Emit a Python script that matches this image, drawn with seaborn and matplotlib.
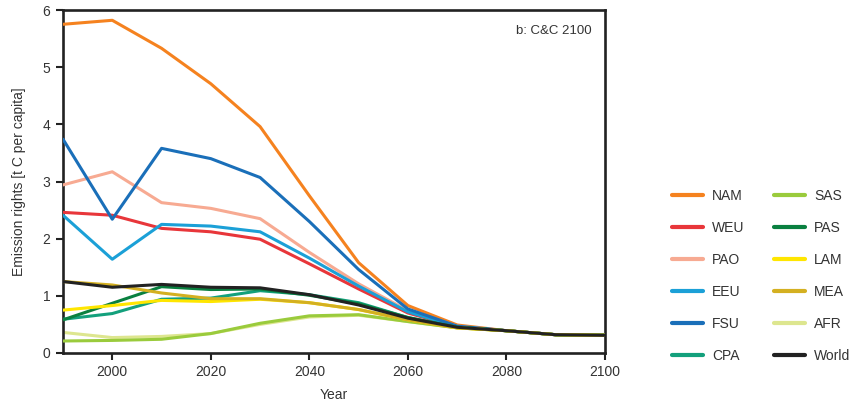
import numpy as np
import pandas as pd
import matplotlib
matplotlib.use("Agg")
import matplotlib.pyplot as plt
import seaborn as sns

years = [1990, 2000, 2010, 2020, 2030, 2040, 2050, 2060, 2070, 2080, 2090, 2100]

NAM = [5.75, 5.82, 5.33, 4.71, 3.96, 2.75, 1.58, 0.83, 0.49, 0.39, 0.32, 0.31]
WEU = [2.46, 2.41, 2.18, 2.12, 1.99, 1.56, 1.12, 0.70, 0.46, 0.39, 0.32, 0.31]
PAO = [2.94, 3.17, 2.63, 2.53, 2.35, 1.76, 1.21, 0.74, 0.47, 0.39, 0.32, 0.31]
EEU = [2.41, 1.64, 2.25, 2.22, 2.12, 1.66, 1.17, 0.72, 0.46, 0.39, 0.32, 0.31]
FSU = [3.74, 2.34, 3.58, 3.40, 3.07, 2.30, 1.46, 0.77, 0.47, 0.39, 0.32, 0.31]
CPA = [0.59, 0.69, 0.94, 0.96, 1.09, 1.02, 0.88, 0.62, 0.45, 0.39, 0.32, 0.31]
SAS = [0.21, 0.22, 0.24, 0.34, 0.52, 0.65, 0.67, 0.55, 0.44, 0.39, 0.32, 0.31]
PAS = [0.58, 0.87, 1.16, 1.11, 1.12, 1.01, 0.86, 0.62, 0.45, 0.39, 0.32, 0.31]
LAM = [0.75, 0.83, 0.92, 0.90, 0.94, 0.88, 0.76, 0.58, 0.44, 0.39, 0.32, 0.31]
MEA = [1.25, 1.19, 1.05, 0.95, 0.95, 0.88, 0.76, 0.58, 0.44, 0.39, 0.32, 0.31]
AFR = [0.36, 0.27, 0.29, 0.34, 0.50, 0.63, 0.66, 0.55, 0.44, 0.39, 0.32, 0.31]
World = [1.25, 1.15, 1.20, 1.15, 1.14, 1.02, 0.84, 0.61, 0.45, 0.39, 0.32, 0.31]

regions = ["NAM", "WEU", "PAO", "EEU", "FSU", "CPA",
           "SAS", "PAS", "LAM", "MEA", "AFR", "World"]
series = [NAM, WEU, PAO, EEU, FSU, CPA, SAS, PAS, LAM, MEA, AFR, World]
colors = ["#f5821f", "#e8363a", "#f7aa92", "#1ba0d7", "#1a6fb9", "#13a07c",
          "#9acb3c", "#0a8040", "#ffe600", "#d4b021", "#dde68f", "#222222"]

rows = []
for r, vals in zip(regions, series):
    for y, v in zip(years, vals):
        rows.append({"Year": y, "value": v, "Region": r})
df = pd.DataFrame(rows)

sns.set_style("ticks")
plt.rcParams["font.family"] = ["Liberation Sans", "DejaVu Sans"]

fig = plt.figure(figsize=(8.56, 4.05), dpi=100)
ax = fig.add_axes([63 / 856, 52 / 405, (605 - 63) / 856, (353 - 10) / 405])

sns.lineplot(data=df, x="Year", y="value", hue="Region", hue_order=regions,
             palette=dict(zip(regions, colors)), linewidth=2.2, legend=False,
             ax=ax, sort=False)

lines = ax.get_lines()
for i, ln in enumerate(lines):
    ln.set_zorder(3 + i)
    ln.set_solid_joinstyle("round")
    if regions[i] == "AFR":
        ln.set_zorder(2.5)
    if regions[i] == "World":
        ln.set_zorder(20)

ax.set_xlim(1990, 2100)
ax.set_ylim(0, 6)
ax.set_xticks([2000, 2020, 2040, 2060, 2080, 2100])
ax.set_yticks([0, 1, 2, 3, 4, 5, 6])
tc = "#333333"
ax.tick_params(axis="both", direction="out", length=5, width=1.5,
               labelsize=10, colors="#222222", labelcolor=tc, pad=4)
for s in ax.spines.values():
    s.set_visible(True)
    s.set_linewidth(1.9)
    s.set_color("#222222")

ax.set_xlabel("Year", fontsize=10, color=tc, labelpad=6)
ax.set_ylabel("Emission rights [t C per capita]", fontsize=10, color=tc, labelpad=12)

ax.text(0.975, 0.955, "b: C&C 2100", transform=ax.transAxes, ha="right",
        va="top", fontsize=9.5, color=tc)

leg = fig.legend(handles=lines, labels=regions, ncol=2, loc="upper left",
                 bbox_to_anchor=(672 / 856, (405 - 189) / 405), frameon=False,
                 fontsize=10, labelspacing=1.3, handlelength=2.2,
                 handletextpad=0.7, columnspacing=2.1, borderpad=0,
                 borderaxespad=0)
for t in leg.get_texts():
    t.set_color(tc)
for h in leg.get_lines():
    h.set_linewidth(3)

fig.savefig("out.png", dpi=100)
